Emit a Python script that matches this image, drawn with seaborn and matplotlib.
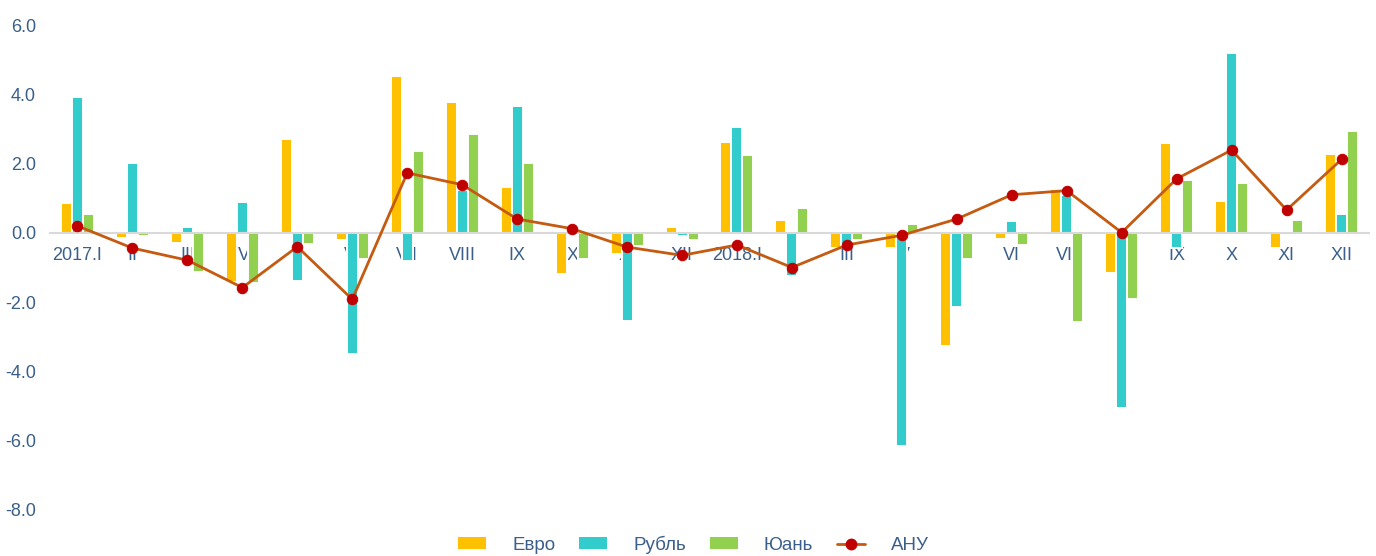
import pandas as pd
import matplotlib.pyplot as plt
from matplotlib.patches import Patch
from matplotlib.lines import Line2D
import seaborn as sns

# Data
months = ['2017.I', 'II', 'III', 'IV', 'V', 'VI', 'VII', 'VIII', 'IX', 'X', 'XI', 'XII',
          '2018.I', 'II', 'III', 'IV', 'V', 'VI', 'VII', 'VIII', 'IX', 'X', 'XI', 'XII']

euro = [0.85, -0.15, -0.3, -1.43, 2.7, -0.2, 4.52, 3.77, 1.32, -1.18, -0.6, 0.17,
        2.63, 0.37, -0.45, -0.45, -3.28, -0.18, 1.26, -1.16, 2.58, 0.91, -0.43, 2.28]
ruble = [3.93, 2.03, 0.17, 0.88, -1.4, -3.5, -0.82, 1.24, 3.66, 0.0, -2.53, -0.08,
         3.07, -1.24, -0.35, -6.15, -2.14, 0.35, 1.08, -5.05, -0.44, 5.18, -0.05, 0.54]
yuan = [0.54, -0.08, -1.13, -1.46, -0.33, -0.75, 2.36, 2.84, 2.03, -0.75, -0.37, -0.22,
        2.24, 0.73, -0.22, 0.25, -0.75, -0.35, -2.57, -1.91, 1.53, 1.44, 0.37, 2.95]
anu = [0.2, -0.44, -0.79, -1.58, -0.4, -1.92, 1.73, 1.39, 0.4, 0.12, -0.41, -0.65,
       -0.35, -1.0, -0.35, -0.07, 0.4, 1.1, 1.22, 0.01, 1.56, 2.39, 0.66, 2.12]

series = ['Евро', 'Рубль', 'Юань']
colors = ['#FFC000', '#33CCCC', '#92D050']
line_color = '#C55A11'
marker_color = '#C00000'
text_color = '#3A5F8A'

pos = list(range(len(months)))
df = pd.DataFrame({
    'pos': pos * 3,
    'series': [s for s in series for _ in months],
    'value': euro + ruble + yuan,
})
df_line = pd.DataFrame({'pos': pos, 'value': anu})

sns.set_style('white')
plt.rcParams['font.family'] = ['Liberation Sans', 'DejaVu Sans']

fig = plt.figure(figsize=(13.76, 5.56), dpi=100)
ax = fig.add_axes([50 / 1376, 1 - 510 / 556, 1319 / 1376, 485 / 556])

sns.barplot(data=df, x='pos', y='value', hue='series', hue_order=series,
            palette=colors, saturation=1, width=0.6, edgecolor='white',
            linewidth=1.4, legend=False, ax=ax)
sns.lineplot(data=df_line, x='pos', y='value', color=line_color, linewidth=2.0,
             marker='o', markersize=7.5, markerfacecolor=marker_color,
             markeredgecolor=marker_color, ax=ax, zorder=5)

ax.set_xlim(-0.5, len(months) - 0.5)
ax.set_ylim(-8, 6)
ax.set_yticks(range(-8, 7, 2))
ax.set_yticklabels([f'{v:.1f}' for v in range(-8, 7, 2)])
ax.set_xticks(pos)
ax.set_xticklabels(months)
ax.set_xlabel('')
ax.set_ylabel('')

for s in ['top', 'right', 'left']:
    ax.spines[s].set_visible(False)
ax.spines['bottom'].set_position(('data', 0))
ax.spines['bottom'].set_color('#D9D9D9')
ax.spines['bottom'].set_linewidth(1.5)
ax.set_axisbelow(True)
ax.tick_params(axis='both', length=0, labelsize=13, labelcolor=text_color)
ax.tick_params(axis='x', pad=10.5)
ax.tick_params(axis='y', pad=10)

handles = [Patch(facecolor=c, edgecolor='none') for c in colors]
handles.append(Line2D([], [], color=line_color, linewidth=2.0, marker='o',
                      markersize=7.5, markerfacecolor=marker_color,
                      markeredgecolor=marker_color))
leg = fig.legend(handles, series + ['АНУ'], loc='center', bbox_to_anchor=(0.504, 0.02),
                 ncol=4, frameon=False, fontsize=13.5, handlelength=1.5,
                 handleheight=0.6, handletextpad=1.4, columnspacing=1.25)
for t in leg.get_texts():
    t.set_color(text_color)

fig.savefig('out.png', dpi=100)
